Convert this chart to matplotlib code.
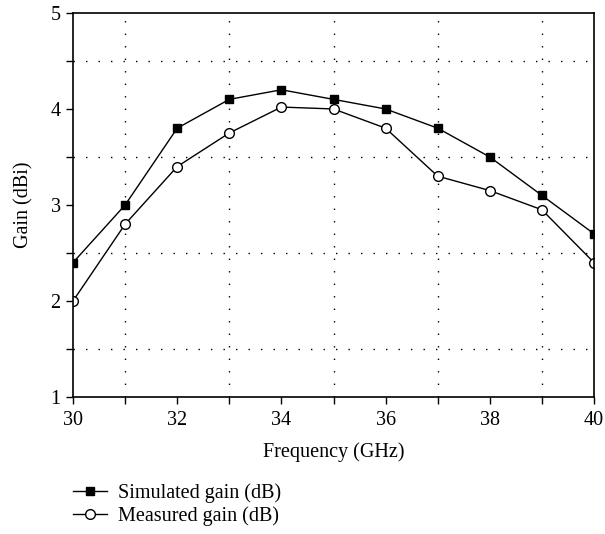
import numpy as np
import matplotlib
matplotlib.use("Agg")
import matplotlib.pyplot as plt
from matplotlib.ticker import MultipleLocator

# data
freq = [30, 31, 32, 33, 34, 35, 36, 37, 38, 39, 40]
sim_gain = [2.4, 3.0, 3.8, 4.1, 4.2, 4.1, 4.0, 3.8, 3.5, 3.1, 2.7]
meas_gain = [2.0, 2.8, 3.4, 3.75, 4.02, 4.0, 3.8, 3.3, 3.15, 2.95, 2.4]

plt.rcParams['font.family'] = ['Liberation Serif', 'DejaVu Serif']
fs = 14.5

fig = plt.figure(figsize=(6.05, 5.34), dpi=100)
ax = fig.add_axes([0.1207, 0.2566, 0.8611, 0.7191])

ax.plot(freq, sim_gain, '-s', color='black', lw=1.0, ms=6,
        mfc='black', mec='black', label='Simulated gain (dB)')
ax.plot(freq, meas_gain, '-o', color='black', lw=1.0, ms=7,
        mfc='white', mec='black', mew=1.0, label='Measured gain (dB)')

ax.set_xlim(30, 40)
ax.set_ylim(1, 5)
ax.xaxis.set_major_locator(MultipleLocator(2))
ax.xaxis.set_minor_locator(MultipleLocator(1))
ax.yaxis.set_major_locator(MultipleLocator(1))
ax.yaxis.set_minor_locator(MultipleLocator(0.5))
ax.tick_params(which='both', direction='out', width=1.0, length=5,
               labelsize=fs)
ax.tick_params(axis='x', pad=5)
ax.tick_params(axis='y', pad=4)
ax.grid(which='minor', linestyle=(0, (1, 8)), color='black', lw=1.0)
for s in ax.spines.values():
    s.set_linewidth(1.2)

ax.set_xlabel("Frequency (GHz)", fontsize=fs, labelpad=9)
ax.set_ylabel("Gain (dBi)", fontsize=fs, labelpad=12)

fig.legend(loc='upper left', bbox_to_anchor=(0.1207, 0.0955), frameon=False,
           fontsize=fs, handlelength=1.7, handletextpad=0.55,
           labelspacing=0.2, borderpad=0, borderaxespad=0)

fig.savefig("out.png", dpi=100)
